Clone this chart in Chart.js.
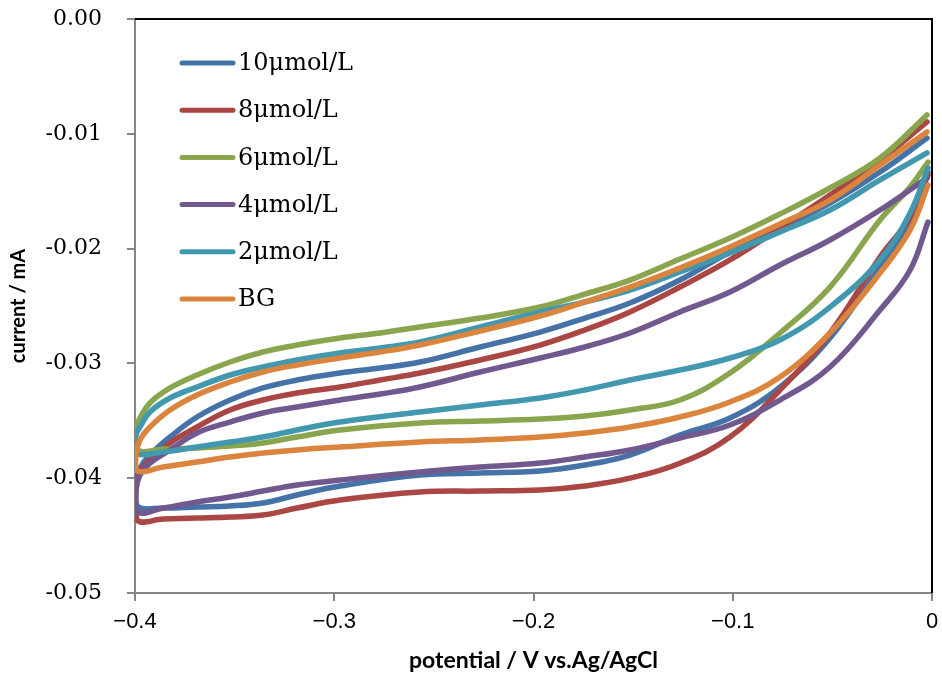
<!DOCTYPE html>
<html>
<head>
<meta charset="utf-8">
<script src="https://cdn.jsdelivr.net/npm/chart.js@4/dist/chart.umd.min.js"></script>
<style>
  body { margin: 0; background: #fff; }
  #chart { display: block; }
</style>
</head>
<body>
<canvas id="chart" width="942" height="675"></canvas>
<script>
// scan: upper branch (0 -> -0.4 V) then lower branch (-0.4 -> 0 V)
var potential = [-0.0025, -0.0261, -0.0512, -0.0763, -0.1014, -0.1265, -0.1516, -0.1742, -0.1967, -0.2268, -0.2570,
    -0.2770, -0.2971, -0.3187, -0.3358, -0.3523, -0.3689, -0.3824, -0.3925, -0.3975, -0.3995,
    -0.3990, -0.3859, -0.3689, -0.3523, -0.3358, -0.3187, -0.2971, -0.2570, -0.2268, -0.1967,
    -0.1742, -0.1516, -0.1265, -0.1014, -0.0763, -0.0512, -0.0261, -0.0110, -0.0020];

var current10 = [-0.01037, -0.01333, -0.01603, -0.01821, -0.02030, -0.02274, -0.02474, -0.02605, -0.02727, -0.02857, -0.02988,
    -0.03040, -0.03084, -0.03145, -0.03214, -0.03319, -0.03467, -0.03641, -0.03798, -0.03911, -0.04016,
    -0.04242, -0.04260, -0.04251, -0.04242, -0.04216, -0.04146, -0.04068, -0.03972, -0.03955, -0.03937,
    -0.03885, -0.03798, -0.03624, -0.03476, -0.03206, -0.02779, -0.02160, -0.01768, -0.01333];

var current8 = [-0.00897, -0.01228, -0.01533, -0.01821, -0.02099, -0.02335, -0.02552, -0.02709, -0.02840, -0.02970, -0.03084,
    -0.03145, -0.03206, -0.03258, -0.03319, -0.03406, -0.03554, -0.03693, -0.03842, -0.03946, -0.04103,
    -0.04364, -0.04356, -0.04347, -0.04338, -0.04321, -0.04260, -0.04190, -0.04120, -0.04112, -0.04103,
    -0.04068, -0.04000, -0.03870, -0.03641, -0.03232, -0.02735, -0.02073, -0.01725, -0.01359];

var current6 = [-0.00836, -0.01211, -0.01472, -0.01699, -0.01908, -0.02091, -0.02274, -0.02396, -0.02509, -0.02605, -0.02683,
    -0.02735, -0.02779, -0.02840, -0.02901, -0.02988, -0.03101, -0.03214, -0.03345, -0.03476, -0.03563,
    -0.03754, -0.03746, -0.03737, -0.03720, -0.03693, -0.03641, -0.03580, -0.03519, -0.03502, -0.03484,
    -0.03458, -0.03406, -0.03319, -0.03084, -0.02735, -0.02335, -0.01751, -0.01463, -0.01246];

var current4 = [-0.01385, -0.01664, -0.01925, -0.02143, -0.02378, -0.02552, -0.02735, -0.02857, -0.02953, -0.03075, -0.03206,
    -0.03267, -0.03319, -0.03380, -0.03432, -0.03511, -0.03606, -0.03754, -0.03868, -0.03972, -0.04103,
    -0.04295, -0.04260, -0.04207, -0.04164, -0.04112, -0.04059, -0.04016, -0.03946, -0.03903, -0.03868,
    -0.03815, -0.03754, -0.03650, -0.03537, -0.03319, -0.03031, -0.02535, -0.02186, -0.01768];

var current2 = [-0.01167, -0.01402, -0.01664, -0.01855, -0.02038, -0.02204, -0.02361, -0.02465, -0.02552, -0.02683, -0.02814,
    -0.02866, -0.02909, -0.02970, -0.03031, -0.03101, -0.03206, -0.03301, -0.03423, -0.03554, -0.03624,
    -0.03781, -0.03772, -0.03728, -0.03685, -0.03641, -0.03580, -0.03511, -0.03423, -0.03362, -0.03301,
    -0.03232, -0.03145, -0.03058, -0.02953, -0.02796, -0.02509, -0.02099, -0.01690, -0.01298];

var currentBG = [-0.00984, -0.01272, -0.01577, -0.01786, -0.01986, -0.02169, -0.02335, -0.02465, -0.02587, -0.02718, -0.02840,
    -0.02901, -0.02953, -0.03014, -0.03075, -0.03162, -0.03275, -0.03406, -0.03554, -0.03667, -0.03798,
    -0.03937, -0.03903, -0.03859, -0.03815, -0.03781, -0.03754, -0.03728, -0.03685, -0.03667, -0.03641,
    -0.03606, -0.03554, -0.03467, -0.03336, -0.03119, -0.02735, -0.02213, -0.01838, -0.01446];

var seriesNames = ['10μmol/L', '8μmol/L', '6μmol/L', '4μmol/L', '2μmol/L', 'BG'];
var seriesCurrents = [current10, current8, current6, current4, current2, currentBG];
var seriesColors = ['#4572A7', '#AA4643', '#89A54E', '#71588F', '#4198AF', '#DB843D'];

var xTicks = [-0.4, -0.3, -0.2, -0.1, 0];
var yTicks = [-0.05, -0.04, -0.03, -0.02, -0.01, 0];

var datasets = seriesNames.map(function(name, i) {
    return {
        label: name,
        data: potential.map(function(p, k) { return {x: p, y: seriesCurrents[i][k]}; }),
        borderColor: seriesColors[i],
        backgroundColor: seriesColors[i],
        borderWidth: 5.5,
        pointRadius: 0,
        showLine: true,
        tension: 0.4,
        borderCapStyle: 'round',
        borderJoinStyle: 'round',
        // later series are drawn on top, like the original
        order: seriesNames.length - i
    };
});

// legend inside the plot area, drawn by hand
var legendInside = {
    id: 'legendInside',
    afterDraw: function(chart) {
        var c = chart.ctx;
        c.save();
        c.font = '24px "DejaVu Serif", serif';
        c.textBaseline = 'middle';
        seriesNames.forEach(function(name, i) {
            var y = 63 + i * 47.2;
            c.strokeStyle = seriesColors[i];
            c.lineWidth = 5;
            c.lineCap = 'round';
            c.beginPath();
            c.moveTo(182, y);
            c.lineTo(233, y);
            c.stroke();
            c.fillStyle = '#000';
            c.fillText(name, 238, y + 1);
        });
        c.restore();
    }
};

// black frame on top and right of the plot area
var plotFrame = {
    id: 'plotFrame',
    afterDatasetsDraw: function(chart) {
        var a = chart.chartArea;
        var c = chart.ctx;
        c.save();
        c.strokeStyle = '#000';
        c.lineWidth = 2;
        c.beginPath();
        c.moveTo(a.left, a.top);
        c.lineTo(a.right, a.top);
        c.lineTo(a.right, a.bottom);
        c.stroke();
        c.restore();
    }
};

var ctx = document.getElementById('chart').getContext('2d');

var chart = new Chart(ctx, {
    type: 'scatter',
    data: {datasets: datasets},
    options: {
        responsive: false,
        animation: false,
        layout: {padding: {top: 19, right: 10, left: 0, bottom: 0}},
        plugins: {
            legend: {display: false},
            tooltip: {enabled: false}
        },
        scales: {
            x: {
                type: 'linear',
                min: -0.4,
                max: 0,
                afterFit: function(scale) {
                    scale.height = 82;
                    scale.paddingLeft = 0;
                    scale.paddingRight = 0;
                },
                afterBuildTicks: function(scale) {
                    scale.ticks = xTicks.map(function(v) { return {value: v}; });
                },
                border: {color: '#868686', width: 2},
                grid: {drawOnChartArea: false, color: '#868686', lineWidth: 2, tickLength: 8},
                ticks: {
                    color: '#000',
                    padding: 8,
                    maxRotation: 0,
                    font: {family: '"Liberation Sans Narrow", "Liberation Sans", sans-serif', size: 22},
                    callback: function(v) {
                        return Math.abs(v) < 1e-9 ? '0' : '\u2212' + Math.abs(v).toFixed(1);
                    }
                },
                title: {
                    display: true,
                    text: 'potential / V vs.Ag/AgCl',
                    color: '#000',
                    padding: {top: 1, bottom: 1},
                    font: {family: 'Lato, sans-serif', size: 23, weight: 'bold'}
                }
            },
            y: {
                type: 'linear',
                min: -0.05,
                max: 0,
                afterFit: function(scale) {
                    scale.width = 135;
                    scale.paddingTop = 0;
                    scale.paddingBottom = 0;
                },
                afterBuildTicks: function(scale) {
                    scale.ticks = yTicks.map(function(v) { return {value: v}; });
                },
                border: {color: '#868686', width: 2},
                grid: {drawOnChartArea: false, color: '#868686', lineWidth: 2, tickLength: 8},
                ticks: {
                    color: '#000',
                    padding: 25,
                    font: {family: '"DejaVu Serif", serif', size: 22},
                    callback: function(v) {
                        return Math.abs(v) < 1e-9 ? '0.00' : v.toFixed(2);
                    }
                },
                title: {
                    display: true,
                    text: 'current / mA',
                    color: '#000',
                    padding: {top: 7, bottom: 7},
                    font: {family: 'Lato, sans-serif', size: 20, weight: 'bold'}
                }
            }
        }
    },
    plugins: [plotFrame, legendInside]
});
</script>
</body>
</html>
